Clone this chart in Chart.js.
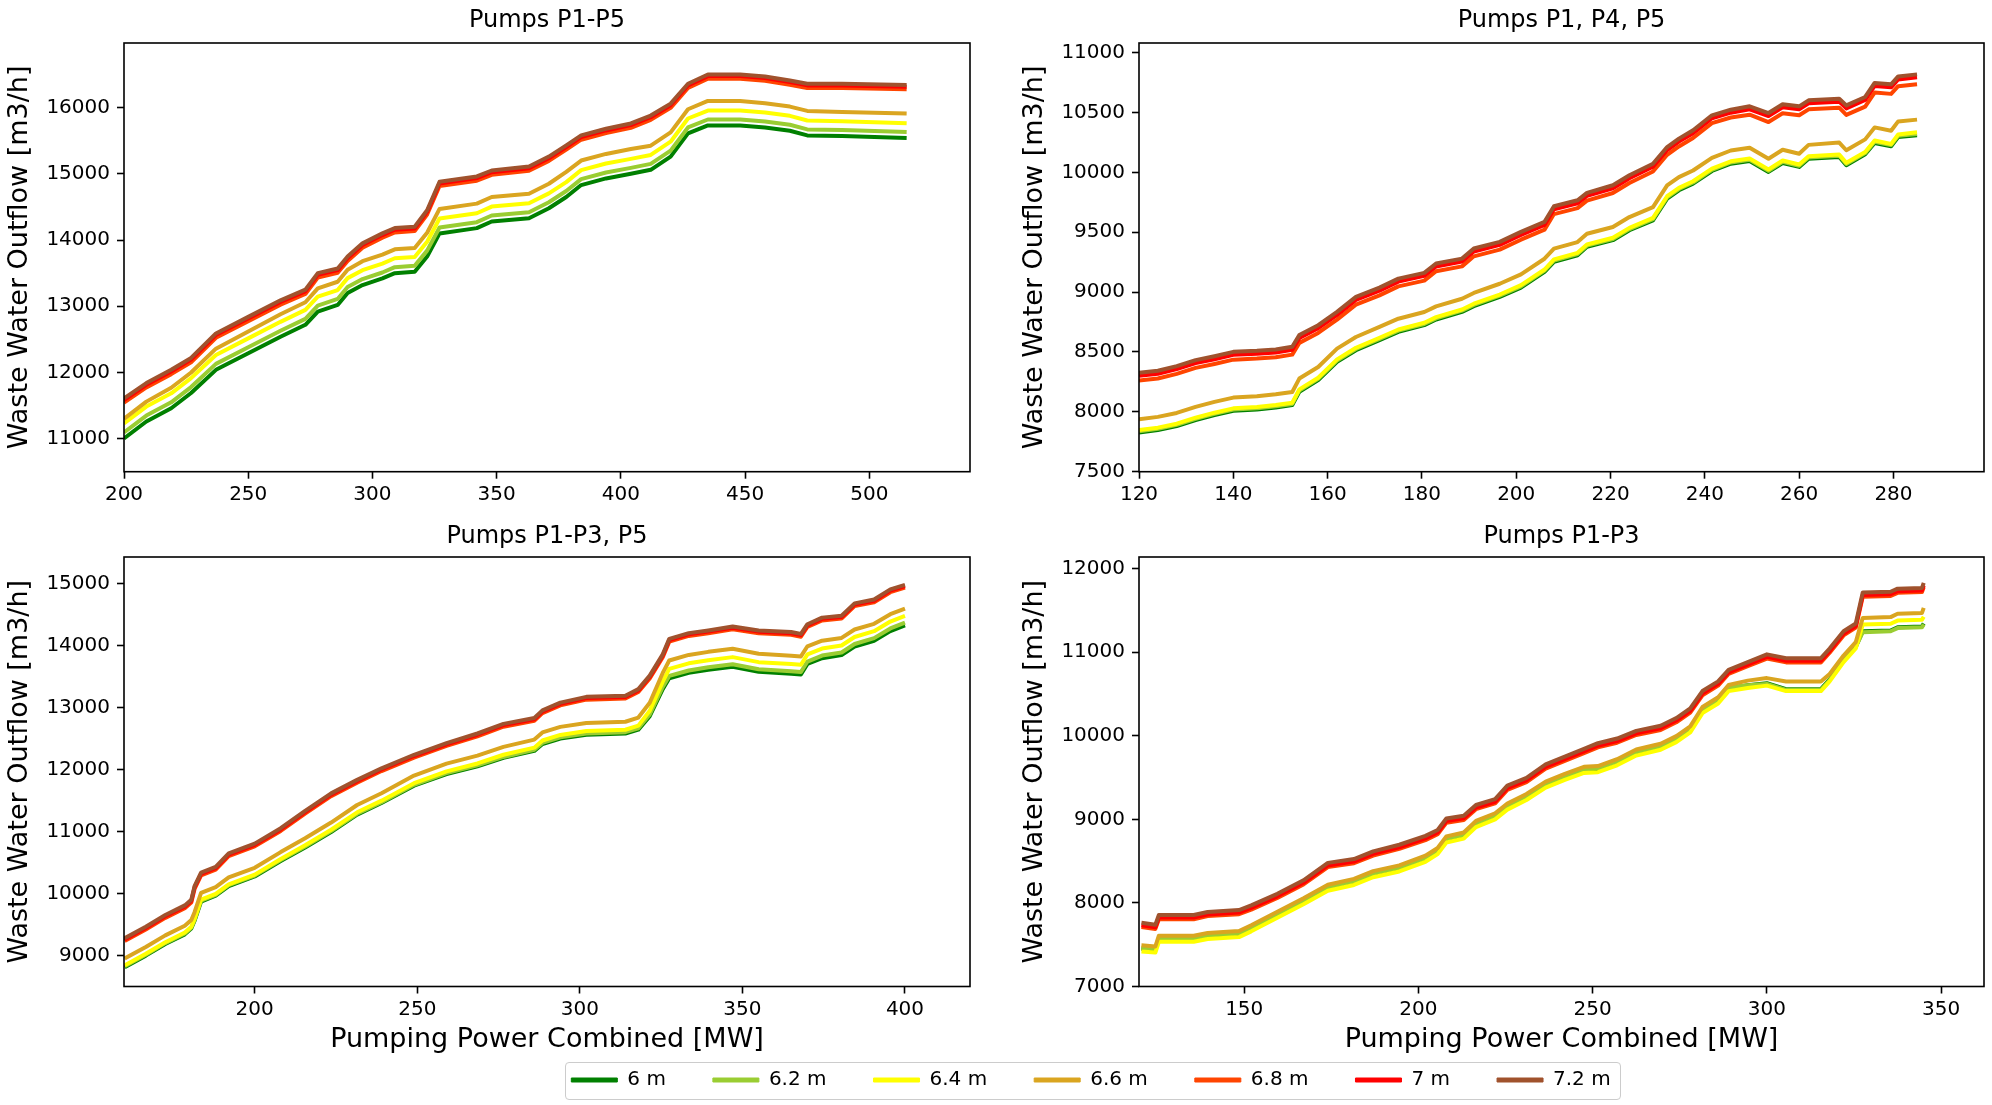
<!DOCTYPE html>
<html>
<head>
<meta charset="utf-8">
<script src="https://cdn.jsdelivr.net/npm/chart.js@4.4.0/dist/chart.umd.min.js"></script>
<style>
    html, body { margin: 0; width: 1992px; height: 1105px; overflow: hidden; background: #fff; }
    .panel { position: absolute; }
    #legend-frame {
        position: absolute; left: 565px; top: 1062px; width: 1056px; height: 38px;
        border: 1px solid #cccccc; border-radius: 4px; box-sizing: border-box;
    }
</style>
</head>
<body>
<div class="panel" style="left:0px;top:0px;width:990px;height:520px"><canvas id="chart-a"></canvas></div>
<div class="panel" style="left:1015px;top:0px;width:977px;height:520px"><canvas id="chart-b"></canvas></div>
<div class="panel" style="left:0px;top:500px;width:990px;height:560px"><canvas id="chart-c"></canvas></div>
<div class="panel" style="left:1015px;top:500px;width:977px;height:560px"><canvas id="chart-d"></canvas></div>
<div id="legend-frame"></div>
<div class="panel" style="left:441px;top:1023px;width:1300px;height:150px"><canvas id="chart-legend"></canvas></div>

<script>
// water levels (legend)
const levels = ["6 m", "6.2 m", "6.4 m", "6.6 m", "6.8 m", "7 m", "7.2 m"];
const levelColors = ["#008000", "#9acd32", "#ffff00", "#daa520", "#ff4500", "#ff0000", "#a0522d"];

// A: Pumps P1-P5
const powerA = [200, 209, 219, 227, 237, 250, 263, 273, 278, 286, 290, 296, 304, 309, 317, 322, 327, 342, 348, 363, 371, 378, 384, 394, 404, 412, 420, 427, 435, 448, 458, 468, 475, 489, 515];
const flowA60 = [11005, 11260, 11460, 11690, 12040, 12290, 12540, 12720, 12920, 13020, 13200, 13320, 13420, 13500, 13520, 13750, 14100, 14180, 14280, 14330, 14480, 14650, 14830, 14930, 15000, 15060, 15260, 15610, 15730, 15730, 15700, 15650, 15580, 15570, 15540];
const flowA62 = [11095, 11350, 11550, 11780, 12130, 12380, 12630, 12810, 13010, 13110, 13290, 13410, 13510, 13590, 13610, 13840, 14190, 14270, 14370, 14420, 14570, 14740, 14920, 15020, 15090, 15150, 15350, 15700, 15820, 15820, 15790, 15740, 15670, 15660, 15630];
const flowA64 = [11230, 11485, 11685, 11915, 12265, 12515, 12765, 12945, 13145, 13245, 13425, 13545, 13645, 13725, 13745, 13975, 14325, 14405, 14505, 14555, 14705, 14875, 15055, 15155, 15225, 15285, 15485, 15835, 15955, 15955, 15925, 15875, 15805, 15795, 15765];
const flowA66 = [11300, 11560, 11770, 12000, 12360, 12620, 12880, 13060, 13270, 13370, 13550, 13680, 13780, 13860, 13880, 14110, 14470, 14550, 14650, 14700, 14850, 15030, 15200, 15300, 15375, 15425, 15625, 15975, 16100, 16100, 16065, 16015, 15950, 15935, 15910];
const flowA68 = [11545, 11775, 11975, 12155, 12525, 12775, 13025, 13185, 13435, 13505, 13685, 13885, 14035, 14115, 14135, 14385, 14815, 14895, 14985, 15045, 15195, 15365, 15515, 15615, 15695, 15815, 15995, 16295, 16435, 16435, 16405, 16345, 16295, 16295, 16275];
const flowA70 = [11585, 11815, 12015, 12195, 12565, 12815, 13065, 13225, 13475, 13545, 13725, 13925, 14075, 14155, 14175, 14425, 14855, 14935, 15025, 15085, 15235, 15405, 15555, 15655, 15735, 15855, 16035, 16335, 16475, 16475, 16445, 16385, 16335, 16335, 16315];
const flowA72 = [11610, 11840, 12040, 12220, 12590, 12840, 13090, 13250, 13500, 13570, 13750, 13950, 14100, 14180, 14200, 14450, 14880, 14960, 15050, 15110, 15260, 15430, 15580, 15680, 15760, 15880, 16060, 16360, 16500, 16500, 16470, 16410, 16360, 16360, 16340];
const xTicksA = [200, 250, 300, 350, 400, 450, 500];
const yTicksA = [11000, 12000, 13000, 14000, 15000, 16000];

// B: Pumps P1, P4, P5
const powerB = [120, 124, 128, 132, 136, 140, 145, 149, 152.5, 154, 158, 162, 166, 171, 175, 180.5, 183, 188.5, 191, 196.5, 201, 206, 208, 213, 215, 220.5, 224, 229, 232, 234.5, 237.5, 241.5, 245.5, 249.5, 253.5, 256.5, 260, 262, 268.5, 270, 274, 276, 279.5, 281, 285];
const flowB60 = [7828, 7848, 7881, 7931, 7973, 8009, 8020, 8037, 8056, 8168, 8265, 8418, 8515, 8599, 8668, 8724, 8771, 8835, 8883, 8960, 9038, 9169, 9253, 9308, 9378, 9434, 9517, 9600, 9781, 9851, 9906, 10012, 10073, 10096, 10004, 10079, 10046, 10115, 10129, 10060, 10151, 10246, 10218, 10296, 10310];
const flowB62 = [7838, 7858, 7891, 7941, 7983, 8019, 8030, 8047, 8066, 8178, 8275, 8428, 8525, 8609, 8678, 8734, 8781, 8845, 8893, 8970, 9048, 9179, 9263, 9318, 9388, 9444, 9527, 9610, 9791, 9861, 9916, 10022, 10083, 10106, 10014, 10089, 10056, 10125, 10139, 10070, 10161, 10256, 10228, 10306, 10320];
const flowB64 = [7848, 7868, 7901, 7951, 7993, 8029, 8040, 8057, 8076, 8188, 8285, 8438, 8535, 8619, 8688, 8744, 8791, 8855, 8903, 8980, 9058, 9189, 9273, 9328, 9398, 9454, 9537, 9620, 9801, 9871, 9926, 10032, 10093, 10116, 10024, 10099, 10066, 10135, 10149, 10080, 10171, 10266, 10238, 10316, 10335];
const flowB66 = [7939, 7958, 7991, 8041, 8083, 8119, 8130, 8147, 8166, 8278, 8375, 8528, 8625, 8709, 8778, 8834, 8881, 8945, 8993, 9070, 9148, 9279, 9363, 9418, 9488, 9544, 9627, 9710, 9891, 9961, 10016, 10122, 10183, 10206, 10114, 10189, 10156, 10230, 10249, 10185, 10276, 10376, 10348, 10426, 10441];
const flowB68 = [8261, 8278, 8317, 8367, 8400, 8436, 8445, 8456, 8478, 8576, 8659, 8770, 8895, 8973, 9048, 9096, 9174, 9215, 9299, 9355, 9438, 9522, 9652, 9702, 9764, 9828, 9911, 10008, 10147, 10217, 10287, 10412, 10459, 10482, 10421, 10494, 10477, 10527, 10541, 10480, 10550, 10667, 10656, 10720, 10737];
const flowB70 = [8301, 8318, 8357, 8407, 8440, 8476, 8485, 8496, 8518, 8616, 8699, 8810, 8935, 9013, 9088, 9136, 9214, 9255, 9339, 9395, 9478, 9562, 9692, 9742, 9804, 9868, 9951, 10048, 10187, 10257, 10327, 10452, 10499, 10527, 10471, 10544, 10527, 10577, 10591, 10535, 10605, 10722, 10711, 10777, 10794];
const flowB72 = [8326, 8343, 8382, 8432, 8465, 8501, 8510, 8521, 8543, 8641, 8724, 8835, 8960, 9038, 9113, 9161, 9239, 9280, 9364, 9420, 9503, 9587, 9717, 9767, 9829, 9893, 9976, 10073, 10212, 10282, 10352, 10477, 10524, 10552, 10496, 10569, 10552, 10602, 10616, 10560, 10630, 10747, 10736, 10802, 10819];
const xTicksB = [120, 140, 160, 180, 200, 220, 240, 260, 280];
const yTicksB = [7500, 8000, 8500, 9000, 9500, 10000, 10500, 11000];

// C: Pumps P1-P3, P5
const powerC = [160, 166.5, 172.5, 178.5, 180.5, 181.5, 183.5, 188, 192, 200, 208, 215.5, 223.5, 231.5, 239, 249, 259, 268.5, 276.5, 286, 288.5, 294, 302, 314, 318, 321.5, 325.5, 327.5, 333.5, 339.5, 347, 355, 365, 368, 370, 374.5, 380.5, 384.5, 390.5, 395.5, 400];
const flowC60 = [8813, 9000, 9187, 9343, 9436, 9561, 9872, 9966, 10121, 10277, 10526, 10745, 10994, 11274, 11461, 11741, 11928, 12053, 12190, 12302, 12414, 12502, 12564, 12583, 12645, 12863, 13299, 13474, 13561, 13611, 13660, 13579, 13548, 13536, 13704, 13798, 13847, 13984, 14078, 14234, 14327];
const flowC62 = [8828, 9015, 9202, 9358, 9451, 9576, 9887, 9981, 10136, 10292, 10541, 10760, 11009, 11289, 11476, 11756, 11943, 12068, 12205, 12320, 12432, 12522, 12584, 12605, 12667, 12890, 13335, 13512, 13600, 13651, 13700, 13619, 13588, 13576, 13744, 13840, 13890, 14027, 14121, 14277, 14372];
const flowC64 = [8843, 9030, 9217, 9373, 9466, 9591, 9902, 9996, 10151, 10307, 10560, 10780, 11030, 11312, 11500, 11782, 11972, 12100, 12240, 12355, 12470, 12560, 12624, 12643, 12710, 12950, 13420, 13625, 13715, 13765, 13815, 13734, 13703, 13691, 13859, 13953, 14002, 14139, 14233, 14389, 14482];
const flowC66 = [8953, 9140, 9327, 9483, 9576, 9701, 10012, 10106, 10261, 10417, 10670, 10893, 11146, 11430, 11620, 11904, 12097, 12226, 12367, 12485, 12600, 12690, 12754, 12773, 12840, 13080, 13560, 13760, 13850, 13900, 13950, 13869, 13838, 13826, 13990, 14080, 14125, 14260, 14352, 14507, 14597];
const flowC68 = [9235, 9422, 9609, 9765, 9858, 10076, 10295, 10388, 10606, 10762, 11011, 11291, 11572, 11790, 11977, 12195, 12382, 12538, 12693, 12787, 12911, 13036, 13129, 13148, 13254, 13472, 13815, 14064, 14157, 14201, 14263, 14201, 14176, 14145, 14301, 14407, 14438, 14637, 14700, 14862, 14936];
const flowC70 = [9260, 9447, 9634, 9790, 9883, 10101, 10320, 10413, 10631, 10787, 11036, 11316, 11597, 11815, 12002, 12220, 12407, 12563, 12718, 12812, 12936, 13061, 13154, 13173, 13279, 13497, 13840, 14089, 14182, 14226, 14288, 14226, 14201, 14170, 14326, 14432, 14463, 14662, 14725, 14887, 14961];
const flowC72 = [9280, 9467, 9654, 9810, 9903, 10121, 10340, 10433, 10651, 10807, 11056, 11336, 11617, 11835, 12022, 12240, 12427, 12583, 12738, 12832, 12956, 13081, 13174, 13193, 13299, 13517, 13860, 14109, 14202, 14246, 14308, 14246, 14221, 14190, 14346, 14452, 14483, 14682, 14745, 14907, 14981];
const xTicksC = [200, 250, 300, 350, 400];
const yTicksC = [9000, 10000, 11000, 12000, 13000, 14000, 15000];

// D: Pumps P1-P3
const powerD = [120.5, 124.5, 125.5, 135.5, 139.5, 148.5, 152, 159.5, 167, 174, 181.5, 187, 194.5, 202, 205.5, 208, 213, 216.5, 222, 225.5, 231, 236.5, 242, 247.5, 251.5, 257, 262.5, 269.5, 274, 278, 281.5, 286, 289, 294.5, 300, 305.5, 315.5, 318, 322, 325.5, 327.5, 335.5, 337.5, 344.5, 345];
const flowD60 = [7453, 7439, 7568, 7568, 7601, 7624, 7693, 7855, 8017, 8178, 8248, 8340, 8409, 8525, 8617, 8756, 8802, 8941, 9033, 9149, 9264, 9412, 9505, 9588, 9597, 9680, 9796, 9865, 9957, 10073, 10304, 10420, 10567, 10604, 10628, 10558, 10558, 10674, 10905, 11067, 11251, 11260, 11298, 11307, 11344];
const flowD62 = [7463, 7449, 7578, 7578, 7611, 7634, 7703, 7865, 8027, 8188, 8258, 8350, 8419, 8535, 8627, 8766, 8812, 8951, 9043, 9159, 9274, 9422, 9515, 9598, 9607, 9690, 9806, 9875, 9967, 10083, 10314, 10430, 10577, 10604, 10620, 10550, 10550, 10666, 10897, 11059, 11240, 11250, 11288, 11297, 11334];
const flowD64 = [7420, 7406, 7535, 7535, 7568, 7591, 7660, 7822, 7984, 8145, 8215, 8307, 8376, 8492, 8584, 8723, 8769, 8908, 9000, 9116, 9231, 9379, 9472, 9555, 9564, 9647, 9763, 9832, 9924, 10040, 10271, 10387, 10534, 10571, 10600, 10535, 10535, 10651, 10882, 11044, 11330, 11340, 11378, 11387, 11424];
const flowD66 = [7493, 7479, 7608, 7608, 7641, 7664, 7733, 7895, 8057, 8218, 8288, 8380, 8449, 8565, 8657, 8796, 8842, 8981, 9073, 9189, 9304, 9452, 9545, 9628, 9637, 9720, 9836, 9905, 9997, 10113, 10344, 10460, 10607, 10660, 10690, 10650, 10650, 10740, 10960, 11120, 11410, 11420, 11460, 11470, 11530];
const flowD68 = [7713, 7689, 7805, 7805, 7842, 7865, 7920, 8059, 8221, 8429, 8475, 8567, 8646, 8752, 8822, 8960, 8993, 9122, 9191, 9353, 9445, 9607, 9700, 9792, 9861, 9917, 10009, 10069, 10162, 10277, 10485, 10601, 10739, 10832, 10924, 10878, 10878, 10993, 11201, 11294, 11664, 11673, 11710, 11719, 11779];
const flowD70 = [7733, 7709, 7825, 7825, 7862, 7885, 7940, 8079, 8241, 8449, 8495, 8587, 8666, 8772, 8842, 8980, 9013, 9142, 9211, 9373, 9465, 9627, 9720, 9812, 9881, 9937, 10029, 10089, 10182, 10297, 10505, 10621, 10759, 10852, 10944, 10898, 10898, 11013, 11221, 11314, 11684, 11693, 11730, 11739, 11799];
const flowD72 = [7763, 7739, 7855, 7855, 7892, 7915, 7970, 8109, 8271, 8479, 8525, 8617, 8696, 8802, 8872, 9010, 9043, 9172, 9241, 9403, 9495, 9657, 9750, 9842, 9911, 9967, 10059, 10119, 10212, 10327, 10535, 10651, 10789, 10882, 10974, 10928, 10928, 11043, 11251, 11344, 11714, 11723, 11760, 11769, 11829];
const xTicksD = [150, 200, 250, 300, 350];
const yTicksD = [7000, 8000, 9000, 10000, 11000, 12000];

Chart.defaults.font.family = "'DejaVu Sans', sans-serif";
Chart.defaults.color = "#000";

// black box around the plot area, like matplotlib spines
const framePlugin = {
    id: "frame",
    afterDatasetsDraw(chart) {
        const ctx = chart.ctx;
        const a = chart.chartArea;
        ctx.save();
        ctx.strokeStyle = "#000";
        ctx.lineWidth = 1.6;
        ctx.strokeRect(a.left, a.top, a.right - a.left, a.bottom - a.top);
        ctx.restore();
    }
};

function tickGrid() {
    return {
        display: true,
        drawOnChartArea: false,
        drawTicks: true,
        tickLength: 7,
        tickWidth: 1.6,
        tickColor: "#000"
    };
}

function makePanel(id, title, power, flows, xMin, xMax, xTicks, yMin, yMax, yTicks, bottomRow, rightPad) {

    const datasets = levels.map(function (label, i) {
        return {
            label: label,
            data: power.map((x, j) => ({x: x, y: flows[i][j]})),
            borderColor: levelColors[i],
            backgroundColor: levelColors[i],
            borderWidth: 4,
            borderJoinStyle: "round",
            pointRadius: 0,
            tension: 0,
            fill: false
        };
    }).reverse(); // dataset 0 is drawn on top, so 7.2 m goes first

    const canvasHeight = bottomRow ? 560 : 520;
    const plotBottom = bottomRow ? 486.5 : 471.7;

    new Chart(document.getElementById(id), {
        type: "line",
        data: {datasets: datasets},
        plugins: [framePlugin],
        options: {
            responsive: true,
            maintainAspectRatio: false,
            animation: false,
            layout: {padding: {left: 0, right: rightPad, top: 0, bottom: 0}},
            plugins: {
                legend: {display: false},
                tooltip: {enabled: false},
                title: {
                    display: true,
                    text: title,
                    color: "#000",
                    fullSize: false,
                    font: {size: 24, weight: "normal"},
                    padding: bottomRow ? {top: 22.1, bottom: 6.1} : {top: 6.8, bottom: 7.4}
                }
            },
            scales: {
                x: {
                    type: "linear",
                    min: xMin,
                    max: xMax,
                    afterBuildTicks: function (s) { s.ticks = xTicks.map(v => ({value: v})); },
                    afterFit: function (s) { s.height = canvasHeight - plotBottom; },
                    grid: tickGrid(),
                    border: {display: false},
                    ticks: {
                        color: "#000",
                        font: {size: 20},
                        padding: 4,
                        maxRotation: 0,
                        autoSkip: false,
                        callback: v => String(v)
                    },
                    title: {
                        display: bottomRow,
                        text: "Pumping Power Combined [MW]",
                        color: "#000",
                        font: {size: 27},
                        padding: {top: 0, bottom: 3.8}
                    }
                },
                y: {
                    type: "linear",
                    min: yMin,
                    max: yMax,
                    afterBuildTicks: function (s) { s.ticks = yTicks.map(v => ({value: v})); },
                    afterFit: function (s) { s.width = 124; },
                    grid: tickGrid(),
                    border: {display: false},
                    ticks: {
                        color: "#000",
                        font: {size: 20},
                        padding: 7,
                        autoSkip: false,
                        callback: v => String(v)
                    },
                    title: {
                        display: true,
                        text: "Waste Water Outflow [m3/h]",
                        color: "#000",
                        font: {size: 27},
                        padding: {top: 3.3, bottom: 0}
                    }
                }
            }
        }
    });
}

// shared legend under the two bottom panels
function makeLegend() {
    new Chart(document.getElementById("chart-legend"), {
        type: "line",
        data: {
            datasets: levels.map((label, i) => ({
                label: label,
                data: [],
                borderColor: levelColors[i],
                backgroundColor: levelColors[i],
                borderWidth: 1
            }))
        },
        options: {
            responsive: true,
            maintainAspectRatio: false,
            animation: false,
            layout: {padding: 0},
            scales: {x: {display: false}, y: {display: false}},
            plugins: {
                tooltip: {enabled: false},
                legend: {
                    display: true,
                    position: "top",
                    align: "center",
                    labels: {
                        boxWidth: 46,
                        boxHeight: 4,
                        padding: 47,
                        color: "#000",
                        font: {size: 20}
                    }
                }
            }
        }
    });
}

makePanel("chart-a", "Pumps P1-P5", powerA,
    [flowA60, flowA62, flowA64, flowA66, flowA68, flowA70, flowA72],
    200, 540.5, xTicksA, 10502, 16975, yTicksA, false, 20);
makePanel("chart-b", "Pumps P1, P4, P5", powerB,
    [flowB60, flowB62, flowB64, flowB66, flowB68, flowB70, flowB72],
    120, 299.2, xTicksB, 7500, 11081, yTicksB, false, 8);
makePanel("chart-c", "Pumps P1-P3, P5", powerC,
    [flowC60, flowC62, flowC64, flowC66, flowC68, flowC70, flowC72],
    159.8, 420, xTicksC, 8502, 15430, yTicksC, true, 20);
makePanel("chart-d", "Pumps P1-P3", powerD,
    [flowD60, flowD62, flowD64, flowD66, flowD68, flowD70, flowD72],
    119.8, 362.3, xTicksD, 7000, 12139, yTicksD, true, 8);
makeLegend();
</script>
</body>
</html>
